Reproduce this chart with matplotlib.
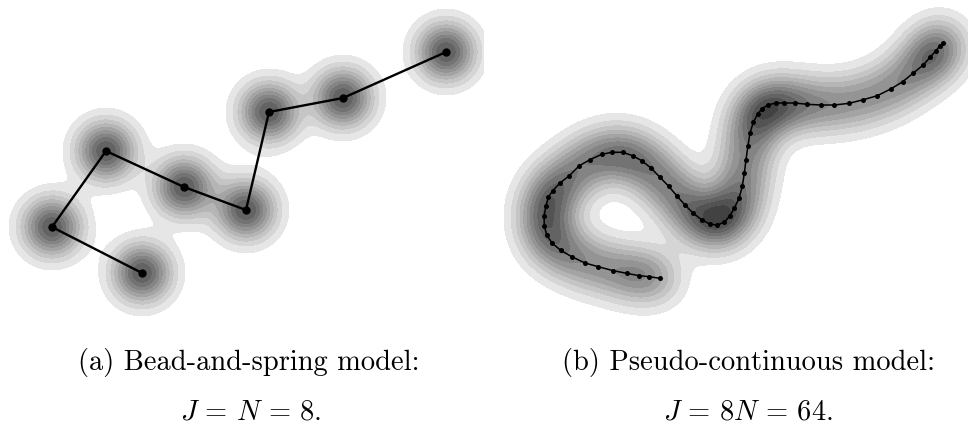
import numpy as np
import matplotlib
matplotlib.use("Agg")
import matplotlib.pyplot as plt
from matplotlib.colors import ListedColormap, BoundaryNorm

plt.rcParams["mathtext.fontset"] = "cm"

# Bead-and-spring chain (N = 8 beads), positions in canvas units
beads_a_x = [142, 52, 106, 184, 246, 269, 343, 446]
beads_a_y = [274, 228, 152, 188, 211, 113, 99, 53]

# Pseudo-continuous chain (J = 64 beads)
beads_b_x = [660.0, 649.3, 639.3, 626.7, 613.3, 598.3, 585.0, 571.7, 560.7, 552.0,
             546.7, 544.3, 544.0, 546.0, 548.3, 552.7, 560.0, 569.3, 579.3, 590.0,
             601.7, 612.0, 622.7, 632.7, 641.7, 651.0, 660.0, 668.7, 676.7, 685.0,
             693.3, 701.7, 710.0, 717.3, 724.3, 730.0, 734.3, 739.0, 742.3, 744.3,
             746.0, 748.0, 750.0, 753.3, 757.7, 761.7, 767.7, 775.7, 784.3, 795.0,
             807.3, 820.7, 834.3, 849.3, 863.3, 877.3, 890.7, 902.7, 913.3, 923.3,
             930.0, 936.0, 940.0, 942.7]
beads_b_y = [279.3, 277.7, 276.7, 274.3, 271.7, 267.7, 264.0, 257.7, 251.3, 244.0,
             236.0, 226.7, 217.3, 206.7, 198.3, 191.7, 184.0, 176.7, 166.7, 160.7,
             155.3, 153.3, 153.3, 156.7, 161.7, 169.0, 178.3, 187.3, 196.7, 206.0,
             214.3, 220.7, 225.3, 226.0, 223.3, 216.7, 209.3, 199.3, 187.3, 174.3,
             160.7, 146.7, 134.0, 123.3, 115.0, 110.0, 106.0, 104.0, 104.0, 104.0,
             105.3, 106.0, 106.0, 104.3, 100.7, 96.7, 90.0, 82.7, 74.0, 66.0,
             58.3, 51.7, 46.7, 44.0]

caption_a = "(a) Bead-and-spring model:"
caption_b = "(b) Pseudo-continuous model:"
formula_a = r"$J\,=\,N\,=\,8.$"
formula_b = r"$J\,=\,8N\,=\,64.$"

W, H = 968, 439
PANEL_H = 330
SIGMA = 20.0
LEVELS = np.round(np.arange(0.1, 2.01, 0.1), 2)
greys = [max(0.90 - 0.064 * k, 0.18) for k in range(len(LEVELS) - 1)]
CMAP = ListedColormap([(g, g, g) for g in greys])
NORM = BoundaryNorm(LEVELS, CMAP.N)


def bead_density(xs, ys, weight, x0, x1):
    gx = np.arange(x0, x1 + 1, 1.0)
    gy = np.arange(0, PANEL_H + 1, 1.0)
    X, Y = np.meshgrid(gx, gy)
    Z = np.zeros_like(X)
    for bx, by in zip(xs, ys):
        Z += weight * np.exp(-((X - bx) ** 2 + (Y - by) ** 2) / (2 * SIGMA ** 2))
    return X, Y, Z


fig = plt.figure(figsize=(W / 100, H / 100), dpi=100)


def panel(x0, x1, xs, ys, weight, lw, ms):
    ax = fig.add_axes([x0 / W, 1 - PANEL_H / H, (x1 - x0) / W, PANEL_H / H])
    X, Y, Z = bead_density(xs, ys, weight, x0, x1)
    ax.contourf(X, Y, Z, levels=LEVELS, cmap=CMAP, norm=NORM)
    ax.plot(xs, ys, "-", color="black", lw=lw, zorder=3)
    ax.plot(xs, ys, "o", color="black", ms=ms, mec="none", zorder=4)
    ax.set_xlim(x0, x1)
    ax.set_ylim(PANEL_H, 0)
    ax.set_aspect("equal")
    ax.axis("off")
    return ax


panel(0, 484, beads_a_x, beads_a_y, 1.0, 1.7, 6.0)
panel(484, 968, beads_b_x, beads_b_y, 0.19, 1.1, 3.6)

txt = dict(fontsize=20.5, ha="center", va="baseline", color="black")
fig.text(249 / W, 1 - 370 / H, caption_a, family="cmr10", **txt)
fig.text(748 / W, 1 - 370 / H, caption_b, family="cmr10", **txt)
fig.text(251 / W, 1 - 420 / H, formula_a, **txt)
fig.text(748 / W, 1 - 420 / H, formula_b, **txt)

fig.savefig("out.png", dpi=100, facecolor="white")
